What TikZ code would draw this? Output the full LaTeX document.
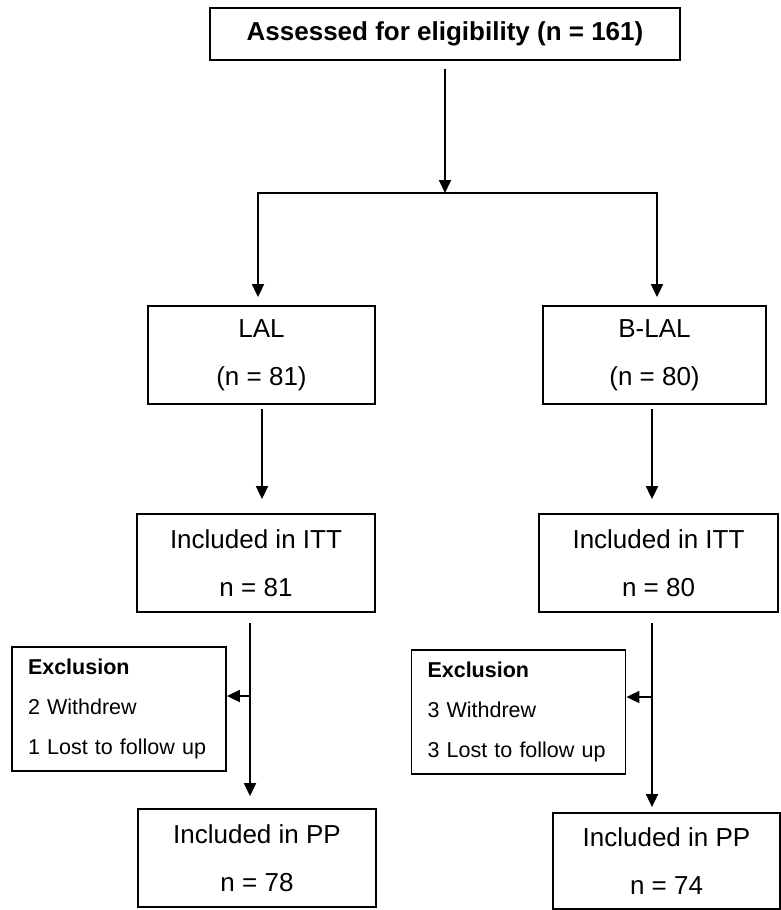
\documentclass[tikz,border=0pt]{standalone}
\usepackage{fontspec}
\setmainfont{Liberation Sans}
\usetikzlibrary{arrows.meta}

\begin{document}
\begin{tikzpicture}[x=1pt,y=-1pt,line width=1.8pt,
	box/.style={draw,inner sep=0pt,align=center,font=\fontsize{26}{48}\selectfont},
	exbox/.style={draw,inner xsep=16pt,inner ysep=0pt,align=left,text width=182pt,minimum height=124pt,font=\fontsize{21.5}{40}\selectfont},
	arr/.style={-{Triangle[length=13pt,width=12pt]}}]
	\useasboundingbox (0,0) rectangle (780,910);
	
	\node[box,minimum width=470pt,minimum height=52pt,font=\fontsize{26}{30}\selectfont\bfseries] (top) at (445,34) {Assessed for eligibility (n = 161)};
	\node[box,minimum width=227pt,minimum height=98pt] (lal) at (261.5,355) {LAL\\(n = 81)};
	\node[box,minimum width=223pt,minimum height=98pt] (blal) at (654.5,355) {B-LAL\\(n = 80)};
	\node[box,minimum width=238pt,minimum height=98pt] (ittl) at (256,563) {Included in ITT\\n = 81};
	\node[box,minimum width=239pt,minimum height=98pt] (ittr) at (658.5,563) {Included in ITT\\n = 80};
	\node[exbox] (exl) at (119,709) {\textbf{Exclusion}\\2 Withdrew\\1 Lost to follow up};
	\node[exbox] (exr) at (518.5,712) {\textbf{Exclusion}\\3 Withdrew\\3 Lost to follow up};
	\node[box,minimum width=238pt,minimum height=98pt] (ppl) at (257,858) {Included in PP\\n = 78};
	\node[box,minimum width=227pt,minimum height=96pt] (ppr) at (666.5,861) {Included in PP\\n = 74};
	
	\coordinate (split) at (445,193);
	\coordinate (splitl) at (258,193);
	\coordinate (splitr) at (657,193);
	\coordinate (brl) at (250,696);
	\coordinate (brr) at (652,697);
	
	% randomisation
	\draw[arr] ([yshift=-8pt]top.south) -- (split);
	\draw[{Triangle[length=13pt,width=12pt]}-{Triangle[length=13pt,width=12pt]},shorten <=8pt,shorten >=8pt]
	(lal.north -| splitl) -- (splitl) -- (splitr) -- (blal.north -| splitr);
	
	\draw[arr] ([xshift=0.5pt,yshift=-4pt]lal.south) -- ([xshift=6pt,yshift=14pt]ittl.north);
	\draw[arr] ([xshift=-2.5pt,yshift=-4pt]blal.south) -- ([xshift=-6.5pt,yshift=14pt]ittr.north);
	
	% follow up
	\draw[arr] ([xshift=-6pt,yshift=-10pt]ittl.south) -- ([xshift=-7pt,yshift=12pt]ppl.north);
	\draw[arr] (brl) -- (brl -| exl.east);
	\draw[arr] ([xshift=-6.5pt,yshift=-10pt]ittr.south) -- ([xshift=-14.5pt,yshift=5pt]ppr.north);
	\draw[arr] (brr) -- (brr -| exr.east);
\end{tikzpicture}
\end{document}
